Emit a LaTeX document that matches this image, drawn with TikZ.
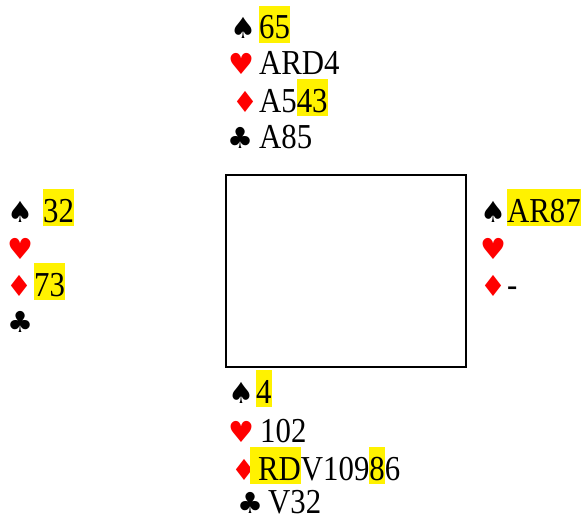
\documentclass[tikz,border=0pt]{standalone}
\usepackage{fontspec}
\setmainfont[FakeStretch=0.88]{Liberation Serif}
\newfontfamily\suitfont{DejaVu Sans}
\usetikzlibrary{positioning}
\newcommand{\sSp}{{\suitfont\fontsize{29}{30}\selectfont ♠}}
\newcommand{\sHe}{{\suitfont\fontsize{29}{30}\selectfont\color{red}♥}}
\newcommand{\sDi}{{\suitfont\fontsize{29}{30}\selectfont\color{red}♦}}
\newcommand{\sCl}{{\suitfont\fontsize{29}{30}\selectfont ♣}}
\newcommand{\marked}[1]{{\fboxsep=0pt\colorbox{yellow}{\rule[-4pt]{0pt}{37pt}#1}}}

\begin{document}
\begin{tikzpicture}[x=1pt,y=-1pt,
		suit/.style={anchor=base west,inner sep=0pt},
		cards/.style={anchor=base west,inner sep=0pt,font=\fontsize{35}{40}\selectfont}]
		\useasboundingbox (0,0) rectangle (584,519);
		\node[draw,line width=1.2pt,minimum width=240pt,minimum height=192pt] (table) at (346,271) {};
		
		% north
		\node[suit]  (nSp)  at (230,39)  {\sSp};
		\node[cards] (nSpC) at (259,39)  {\marked{65}};
		\node[suit]  (nHe)  at (228,75)  {\sHe};
		\node[cards] (nHeC) at (259,75)  {ARD4};
		\node[suit]  (nDi)  at (232,112) {\sDi};
		\node[cards] (nDiC) at (259,112) {A5\marked{43}};
		\node[suit]  (nCl)  at (227,148) {\sCl};
		\node[cards] (nClC) at (259,148) {A85};
		
		% west
		\node[suit]  (wSp)  at (7,222)   {\sSp};
		\node[cards] (wSpC) at (43,222)  {\marked{32}};
		\node[suit]  (wHe)  at (7,259)   {\sHe};
		\node[suit]  (wDi)  at (6,296)   {\sDi};
		\node[cards] (wDiC) at (34,296)  {\marked{73}};
		\node[suit]  (wCl)  at (7,332)   {\sCl};
		
		% east
		\node[suit]  (eSp)  at (480,222) {\sSp};
		\node[cards] (eSpC) at (507,222) {\marked{AR87}};
		\node[suit]  (eHe)  at (480,259) {\sHe};
		\node[suit]  (eDi)  at (480,296) {\sDi};
		\node[cards] (eDiC) at (507,296) {-};
		
		% south
		\node[suit]  (sSp)  at (228,403) {\sSp};
		\node[cards] (sSpC) at (256,403) {\marked{4}};
		\node[suit]  (sHe)  at (228,442) {\sHe};
		\node[cards] (sHeC) at (260,442) {102};
		\node[suit]  (sDi)  at (231,480) {\sDi};
		\node[cards] (sDiC) at (250,480) {\marked{\hspace{8pt}RD}V109\marked{8}6};
		\node[suit]  (sCl)  at (237,513) {\sCl};
		\node[cards] (sClC) at (268,513) {V32};
\end{tikzpicture}
\end{document}
